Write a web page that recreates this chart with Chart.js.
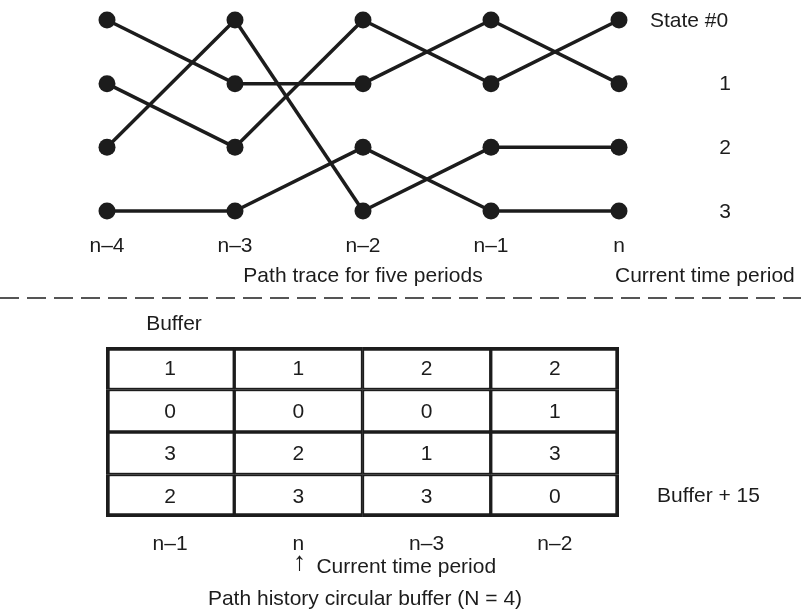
<!DOCTYPE html>
<html>
<head>
<meta charset="utf-8">
<script src="https://cdn.jsdelivr.net/npm/chart.js@4/dist/chart.umd.min.js"></script>
<style>
  body { margin: 0; background: #fff; }
  canvas { display: block; }
</style>
</head>
<body>
<canvas id="trellis" width="801" height="300"></canvas>
<canvas id="buffer" width="801" height="310"></canvas>
<script>
// time periods of the trellis, left to right
const timeLabels = ['n–4', 'n–3', 'n–2', 'n–1', 'n'];
const stateLabels = ['State #0', '1', '2', '3'];

// path history circular buffer: columns are the slots, rows the states,
// each cell holds the survivor predecessor state
const bufferCols = ['n–1', 'n', 'n–3', 'n–2'];
const bufferRow0 = [1, 1, 2, 2];
const bufferRow1 = [0, 0, 0, 1];
const bufferRow2 = [3, 2, 1, 3];
const bufferRow3 = [2, 3, 3, 0];
const bufferRows = [bufferRow0, bufferRow1, bufferRow2, bufferRow3];

const ink = '#1c1c1c';
const font = '21px "Liberation Sans", Arial, "DejaVu Sans", sans-serif';

// nodes
const nodes = [];
timeLabels.forEach((t, ti) => {
  stateLabels.forEach((s, si) => nodes.push({ x: ti, y: si }));
});

// edges: predecessor of state s at time t is read from the buffer slot of time t
const edgeSets = [];
for (let ti = 1; ti < timeLabels.length; ti++) {
  const col = bufferCols.indexOf(timeLabels[ti]);
  for (let s = 0; s < stateLabels.length; s++) {
    const prev = bufferRows[s][col];
    edgeSets.push({
      data: [{ x: ti - 1, y: prev }, { x: ti, y: s }],
      showLine: true,
      borderColor: ink,
      borderWidth: 3.5,
      pointRadius: 0,
      clip: false
    });
  }
}

const trellisText = {
  id: 'trellisText',
  afterDraw(chart) {
    const ctx = chart.ctx;
    const xs = chart.scales.x, ys = chart.scales.y;
    ctx.save();
    ctx.font = font;
    ctx.fillStyle = ink;
    ctx.textBaseline = 'middle';
    ctx.textAlign = 'center';
    timeLabels.forEach((t, i) => ctx.fillText(t, xs.getPixelForValue(i), 246));
    stateLabels.forEach((s, i) => {
      if (i === 0) {
        ctx.textAlign = 'left';
        ctx.fillText(s, 650, ys.getPixelForValue(i) + 1);
      } else {
        ctx.textAlign = 'center';
        ctx.fillText(s, 725, ys.getPixelForValue(i) + 1);
      }
    });
    ctx.textAlign = 'center';
    ctx.fillText('Path trace for five periods', xs.getPixelForValue(2), 276);
    ctx.textAlign = 'left';
    ctx.fillText('Current time period', 615, 276);
    // dashed separator
    ctx.strokeStyle = '#555';
    ctx.lineWidth = 2;
    ctx.setLineDash([19, 8]);
    ctx.beginPath();
    ctx.moveTo(0, 298);
    ctx.lineTo(801, 298);
    ctx.stroke();
    ctx.restore();
  }
};

new Chart(document.getElementById('trellis'), {
  type: 'scatter',
  data: {
    datasets: [{
      data: nodes,
      pointRadius: 8.5,
      pointBackgroundColor: ink,
      pointBorderWidth: 0,
      clip: false
    }].concat(edgeSets)
  },
  options: {
    responsive: false,
    animation: false,
    events: [],
    layout: { padding: { left: 107, right: 182, top: 20, bottom: 89 } },
    plugins: { legend: { display: false }, tooltip: { enabled: false } },
    scales: {
      x: { type: 'linear', min: 0, max: timeLabels.length - 1, display: false },
      y: { type: 'linear', min: 0, max: stateLabels.length - 1, reverse: true, display: false }
    }
  },
  plugins: [trellisText]
});

const nRows = bufferRows.length;
const nCols = bufferCols.length;

const bufferText = {
  id: 'bufferText',
  afterDraw(chart) {
    const ctx = chart.ctx;
    const area = chart.chartArea;
    ctx.save();
    ctx.font = font;
    ctx.fillStyle = ink;
    ctx.textBaseline = 'middle';
    ctx.textAlign = 'center';
    chart.data.datasets.forEach((ds, r) => {
      chart.getDatasetMeta(r).data.forEach((bar, c) => {
        const p = bar.getCenterPoint();
        ctx.fillText(String(bufferRows[r][c]), p.x, p.y + 1);
      });
    });
    const first = chart.getDatasetMeta(0).data;
    bufferCols.forEach((lab, c) => ctx.fillText(lab, first[c].x, area.bottom + 27));
    ctx.fillText('Buffer', 174, 24);
    const nIdx = bufferCols.indexOf('n');
    ctx.font = '26px "Liberation Sans", "DejaVu Sans", sans-serif';
    ctx.fillText('↑', first[nIdx].x + 1, area.bottom + 46);
    ctx.font = font;
    ctx.textAlign = 'left';
    ctx.fillText('Current time period', first[nIdx].x + 18, area.bottom + 50);
    const last = chart.getDatasetMeta(nRows - 1).data[0];
    ctx.fillText('Buffer + 15', 657, last.getCenterPoint().y);
    ctx.textAlign = 'center';
    ctx.fillText('Path history circular buffer (N = 4)', 365, area.bottom + 82);
    ctx.restore();
  }
};

new Chart(document.getElementById('buffer'), {
  type: 'bar',
  data: {
    labels: bufferCols,
    datasets: bufferRows.map((row, r) => ({
      data: row.map(() => 1),
      backgroundColor: '#fff',
      borderColor: ink,
      borderSkipped: false,
      borderWidth: ctx => ({
        left: ctx.dataIndex === 0 ? 4 : 2,
        right: ctx.dataIndex === nCols - 1 ? 4 : 2,
        top: r === 0 ? 4 : 2,
        bottom: r === nRows - 1 ? 4 : 2
      }),
      barPercentage: 1,
      categoryPercentage: 1
    }))
  },
  options: {
    responsive: false,
    animation: false,
    events: [],
    layout: { padding: { left: 106, right: 182, top: 47, bottom: 93 } },
    plugins: { legend: { display: false }, tooltip: { enabled: false } },
    scales: {
      x: { stacked: true, display: false },
      y: { stacked: true, min: 0, max: nRows, reverse: true, display: false }
    }
  },
  plugins: [bufferText]
});
</script>
</body>
</html>
